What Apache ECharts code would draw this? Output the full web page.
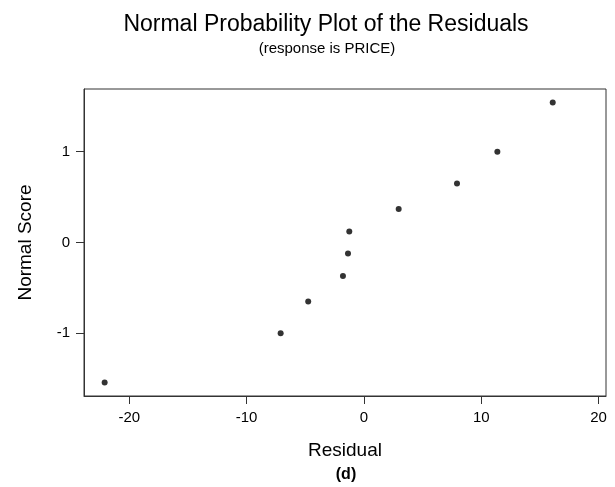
<!DOCTYPE html>
<html>
<head>
<meta charset="utf-8">
<script src="https://cdn.jsdelivr.net/npm/echarts@6/dist/echarts.min.js"></script>
<style>html,body{margin:0;padding:0;background:#fff;}#c{width:615px;height:487px;}</style>
</head>
<body>
<div id="c"></div>
<script>
const residuals = [-22.1, -7.1, -4.75, -1.79, -1.36, -1.25, 2.96, 7.93, 11.37, 16.09];
const normalScores = [-1.54, -1.0, -0.65, -0.37, -0.12, 0.12, 0.37, 0.65, 1.0, 1.54];
const xTicks = [-20, -10, 0, 10, 20];
const yTicks = [-1, 0, 1];

const font = '"Liberation Sans", Arial, Helvetica, sans-serif';
const chart = echarts.init(document.getElementById('c'), null, {renderer: 'canvas'});
chart.setOption({
  animation: false,
  backgroundColor: '#fff',
  graphic: [
    {type: 'text', x: 326, y: 25, style: {text: 'Normal Probability Plot of the Residuals', fontFamily: font, fontSize: 23, fill: '#000', align: 'center', verticalAlign: 'middle'}},
    {type: 'text', x: 327, y: 49, style: {text: '(response is PRICE)', fontFamily: font, fontSize: 15, fill: '#000', align: 'center', verticalAlign: 'middle'}},
    {type: 'text', x: 346, y: 475, style: {text: '(d)', fontFamily: font, fontSize: 16, fontWeight: 'bold', fill: '#000', align: 'center', verticalAlign: 'middle'}}
  ],
  grid: {left: 84, right: 9, top: 89, bottom: 91, show: true, borderColor: '#333', borderWidth: 1, backgroundColor: 'transparent'},
  xAxis: {
    type: 'value', min: -23.86, max: 20.63,
    name: 'Residual', nameLocation: 'middle', nameGap: 45,
    nameTextStyle: {fontFamily: font, fontSize: 19, color: '#000'},
    splitLine: {show: false},
    axisLine: {show: true, onZero: false, lineStyle: {color: '#333', width: 1}},
    axisTick: {show: true, length: 8, customValues: xTicks, lineStyle: {color: '#333'}},
    axisLabel: {customValues: xTicks, fontFamily: font, fontSize: 15, color: '#000', margin: 14}
  },
  yAxis: {
    type: 'value', min: -1.69, max: 1.69,
    name: 'Normal Score', nameLocation: 'middle', nameGap: 49, nameRotate: 90,
    nameTextStyle: {fontFamily: font, fontSize: 19, color: '#000'},
    splitLine: {show: false},
    axisLine: {show: true, onZero: false, lineStyle: {color: '#333', width: 1}},
    axisTick: {show: true, length: 8, customValues: yTicks, lineStyle: {color: '#333'}},
    axisLabel: {customValues: yTicks, fontFamily: font, fontSize: 15, color: '#000', margin: 14}
  },
  series: [{
    type: 'scatter', symbol: 'circle', symbolSize: 6,
    itemStyle: {color: '#000'},
    data: residuals.map((r, i) => [r, normalScores[i]])
  }]
});
</script>
</body>
</html>
